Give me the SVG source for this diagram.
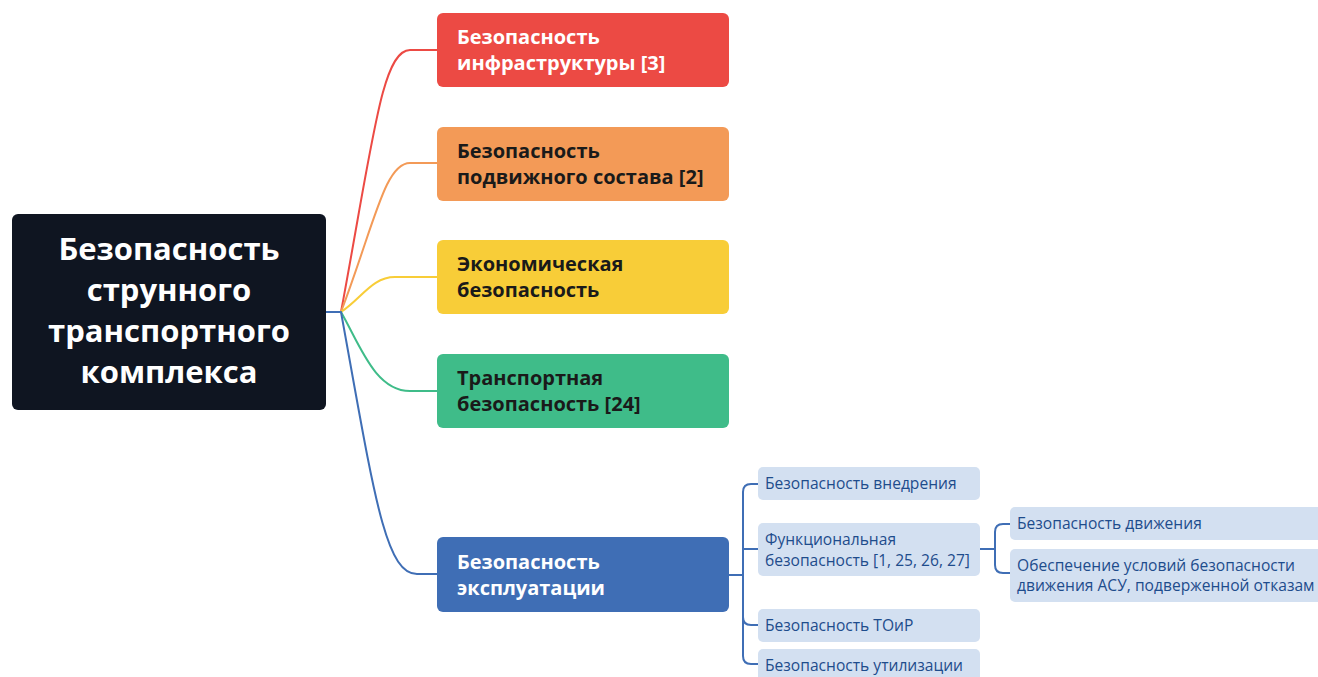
<svg xmlns="http://www.w3.org/2000/svg" width="1318" height="677" viewBox="0 0 1318 677">
<style>
.root-t{font-family:"Open Sans","Noto Sans","DejaVu Sans",sans-serif;font-weight:700;font-size:31px;fill:#ffffff;text-anchor:middle}
.b-t{font-family:"Open Sans","Noto Sans","DejaVu Sans",sans-serif;font-weight:700;font-size:20px}
.s-t{font-family:"Open Sans","Noto Sans","DejaVu Sans",sans-serif;font-size:15.6px;fill:#1e4c8c}
.sub{fill:#d3e0f1}
.con{fill:none;stroke-width:2;stroke-linecap:round}
</style>
<rect width="1318" height="677" fill="#ffffff"/>
<g id="connectors">
<path class="con" stroke="#3f6eb5" d="M326,312 H341"/>
<path class="con" stroke="#ec4a44" d="M341,312 C373,140 382,50 410,50 H437"/>
<path class="con" stroke="#f39a57" d="M341,312 C375,222 385,163 410,163 H437"/>
<path class="con" stroke="#f8cd38" d="M341,312 C362,298 372,277 395,277 H437"/>
<path class="con" stroke="#3fbc89" d="M341,312 C360,345 375,391 410,391 H437"/>
<path class="con" stroke="#3f6eb5" d="M341,312 C374,494 385,574 417,574 H437"/>
<path class="con" stroke="#3f6eb5" d="M729,575 H743 M758,484 H751 Q743,484 743,492 V656 Q743,664 751,664 H758 M743,549 H758 M743,617 Q743,625 751,625 H758"/>
<path class="con" stroke="#3f6eb5" d="M980,549 H995 M1010,524 H1003 Q995,524 995,532 V565 Q995,573 1003,573 H1010"/>
</g>
<g id="root">
<rect x="12" y="214" width="314" height="196" rx="6" fill="#0f1521"/>
<text class="root-t" x="169" y="260">Безопасность</text>
<text class="root-t" x="169" y="301">струнного</text>
<text class="root-t" x="169" y="342">транспортного</text>
<text class="root-t" x="169" y="383">комплекса</text>
</g>
<g id="infra">
<rect x="437" y="13" width="292" height="74" rx="6" fill="#ec4a44"/>
<text class="b-t" fill="#ffffff" x="457" y="44">Безопасность</text>
<text class="b-t" fill="#ffffff" x="457" y="70">инфраструктуры [3]</text>
</g>
<g id="rolling">
<rect x="437" y="127" width="292" height="74" rx="6" fill="#f39a57"/>
<text class="b-t" fill="#1a1a1a" x="457" y="158">Безопасность</text>
<text class="b-t" fill="#1a1a1a" x="457" y="184">подвижного состава [2]</text>
</g>
<g id="economic">
<rect x="437" y="240" width="292" height="74" rx="6" fill="#f8cd38"/>
<text class="b-t" fill="#1a1a1a" x="457" y="271">Экономическая</text>
<text class="b-t" fill="#1a1a1a" x="457" y="297">безопасность</text>
</g>
<g id="transport">
<rect x="437" y="354" width="292" height="74" rx="6" fill="#3fbc89"/>
<text class="b-t" fill="#1a1a1a" x="457" y="385">Транспортная</text>
<text class="b-t" fill="#1a1a1a" x="457" y="411">безопасность [24]</text>
</g>
<g id="operation">
<rect x="437" y="537" width="292" height="75" rx="6" fill="#3f6eb5"/>
<text class="b-t" fill="#ffffff" x="457" y="569">Безопасность</text>
<text class="b-t" fill="#ffffff" x="457" y="595">эксплуатации</text>
</g>
<g id="implementation">
<rect class="sub" x="758" y="467" width="222" height="33" rx="5"/>
<text class="s-t" x="765" y="489">Безопасность внедрения</text>
</g>
<g id="functional">
<rect class="sub" x="758" y="523" width="222" height="53" rx="5"/>
<text class="s-t" x="765" y="545">Функциональная</text>
<text class="s-t" x="765" y="566">безопасность [1, 25, 26, 27]</text>
</g>
<g id="toir">
<rect class="sub" x="758" y="609" width="222" height="33" rx="5"/>
<text class="s-t" x="765" y="631">Безопасность ТОиР</text>
</g>
<g id="disposal">
<rect class="sub" x="758" y="649" width="222" height="40" rx="5"/>
<text class="s-t" x="765" y="671">Безопасность утилизации</text>
</g>
<g id="traffic">
<rect class="sub" x="1010" y="507" width="330" height="33" rx="5"/>
<text class="s-t" x="1017" y="529">Безопасность движения</text>
</g>
<g id="conditions">
<rect class="sub" x="1010" y="549" width="330" height="53" rx="5"/>
<text class="s-t" x="1017" y="571">Обеспечение условий безопасности</text>
<text class="s-t" x="1017" y="591">движения АСУ, подверженной отказам</text>
</g>
</svg>
